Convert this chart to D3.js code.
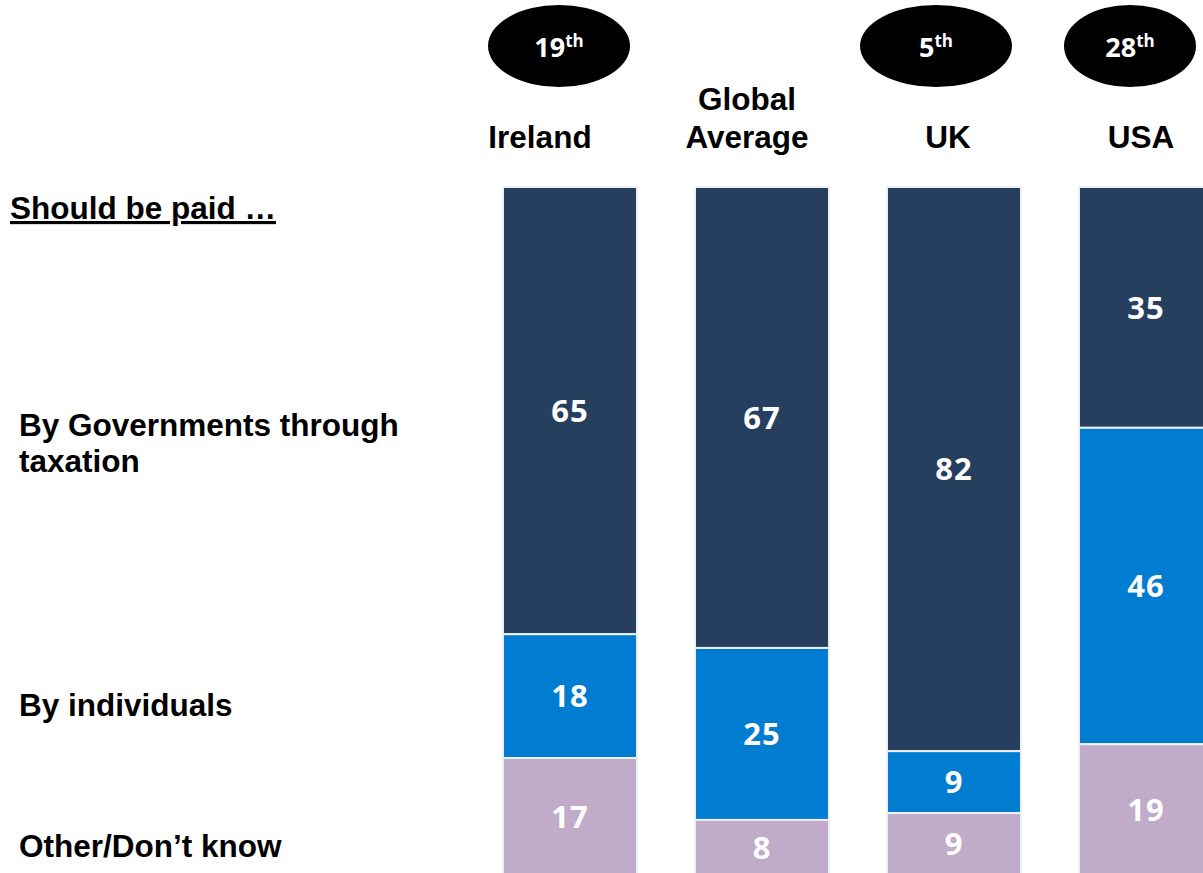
<!DOCTYPE html>
<html>
<head>
<meta charset="utf-8">
<script src="https://cdn.jsdelivr.net/npm/d3@7"></script>
<style>
  html, body { margin: 0; padding: 0; background: #ffffff; }
  svg { display: block; }
</style>
</head>
<body>
<svg id="chart" width="1203" height="873"></svg>
<script>
// Who should pay: share of answers per country (%)
const countries = ["Ireland", "Global Average", "UK", "USA"];
const headerLines = [["Ireland"], ["Global", "Average"], ["UK"], ["USA"]];
const ranks = ["19", null, "5", "28"];
const series = ["By Governments through taxation", "By individuals", "Other/Don't know"];
const governments = [65, 67, 82, 35];
const individuals = [18, 25, 9, 46];
const otherDontKnow = [17, 8, 9, 19];

const colors = ["#273f5f", "#007dd0", "#c0abc9"];

const svg = d3.select("#chart");

const x = d3.scaleBand()
  .domain(countries)
  .range([503, 1213])
  .paddingInner(0.302)
  .paddingOuter(0);

const y = d3.scaleLinear().domain([0, 100]).range([187, 875]);

const rows = countries.map((c, i) => ({
  country: c,
  "By Governments through taxation": governments[i],
  "By individuals": individuals[i],
  "Other/Don't know": otherDontKnow[i]
}));

const stacked = d3.stack().keys(series)(rows);

// Stacked bars
const layers = svg.append("g").selectAll("g")
  .data(stacked)
  .join("g")
  .attr("fill", (d, i) => colors[i]);

layers.selectAll("rect")
  .data(d => d)
  .join("rect")
  .attr("x", d => x(d.data.country))
  .attr("y", d => y(d[0]))
  .attr("width", x.bandwidth())
  .attr("height", d => y(d[1]) - y(d[0]))
  .attr("stroke", "#eef0f5")
  .attr("stroke-width", 2);

// Value labels inside each segment
layers.selectAll("text")
  .data(d => d)
  .join("text")
  .attr("x", d => x(d.data.country) + x.bandwidth() / 2)
  .attr("y", d => (y(d[0]) + y(d[1])) / 2)
  .attr("dy", "0.36em")
  .attr("text-anchor", "middle")
  .attr("fill", "#ffffff")
  .attr("font-family", "'Open Sans', sans-serif")
  .attr("font-weight", 700)
  .attr("font-size", 31)
  .attr("letter-spacing", 1)
  .text(d => d[1] - d[0]);

// Column headers
const headerShift = [-30, -15, -6, -5];
const headers = svg.append("g")
  .attr("font-family", "'Liberation Sans', Arial, sans-serif")
  .attr("font-weight", 700)
  .attr("font-size", 31.5)
  .attr("fill", "#000000")
  .attr("text-anchor", "middle");

countries.forEach((c, i) => {
  const lines = headerLines[i];
  const cx = x(c) + x.bandwidth() / 2 + headerShift[i];
  lines.forEach((line, j) => {
    headers.append("text")
      .attr("x", cx)
      .attr("y", 148 - (lines.length - 1 - j) * 38)
      .text(line);
  });
});

// Ranking badges
const badgeShift = [-11, 0, -18, -16];
const badgeRx = [71, 0, 76, 66];
const badges = svg.append("g");
countries.forEach((c, i) => {
  if (!ranks[i]) return;
  const cx = x(c) + x.bandwidth() / 2 + badgeShift[i];
  badges.append("ellipse")
    .attr("cx", cx)
    .attr("cy", 46)
    .attr("rx", badgeRx[i])
    .attr("ry", 41)
    .attr("fill", "#000000");
  const t = badges.append("text")
    .attr("x", cx)
    .attr("y", 57)
    .attr("text-anchor", "middle")
    .attr("fill", "#ffffff")
    .attr("font-family", "'Open Sans', sans-serif")
    .attr("font-weight", 700)
    .attr("font-size", 27);
  t.append("tspan").text(ranks[i]);
  t.append("tspan")
    .attr("font-size", 17)
    .attr("dy", -10)
    .text("th");
});

// Row labels on the left
const left = svg.append("g")
  .attr("font-family", "'Liberation Sans', Arial, sans-serif")
  .attr("font-weight", 700)
  .attr("font-size", 31.5)
  .attr("fill", "#000000");

left.append("text")
  .attr("x", 10)
  .attr("y", 219)
  .attr("text-decoration", "underline")
  .text("Should be paid …");

left.append("text").attr("x", 19).attr("y", 436).text("By Governments through");
left.append("text").attr("x", 19).attr("y", 472).text("taxation");
left.append("text").attr("x", 19).attr("y", 716).text("By individuals");
left.append("text").attr("x", 19).attr("y", 857).text("Other/Don’t know");
</script>
</body>
</html>
